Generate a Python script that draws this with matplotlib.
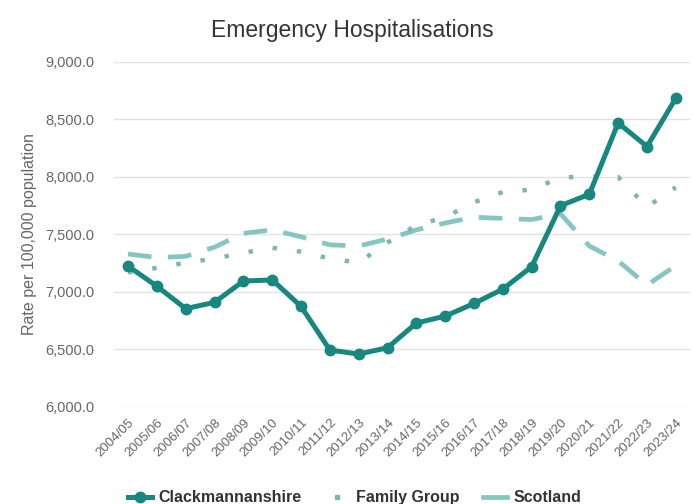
import numpy as np
import matplotlib.pyplot as plt
from matplotlib.ticker import FuncFormatter
from matplotlib.lines import Line2D

plt.rcParams['font.family'] = ['Liberation Sans', 'DejaVu Sans']

years = ["2004/05", "2005/06", "2006/07", "2007/08", "2008/09", "2009/10",
         "2010/11", "2011/12", "2012/13", "2013/14", "2014/15", "2015/16",
         "2016/17", "2017/18", "2018/19", "2019/20", "2020/21", "2021/22",
         "2022/23", "2023/24"]

clacks = [7225, 7050, 6855, 6910, 7095, 7105, 6875, 6495, 6460, 6515,
          6730, 6790, 6900, 7025, 7220, 7750, 7850, 8470, 8265, 8685]

family = [7170, 7210, 7255, 7290, 7340, 7385, 7350, 7290, 7255, 7430,
          7580, 7650, 7780, 7870, 7890, 7995, 8005, 8000, 7740, 7910]

scotland = [7330, 7300, 7310, 7390, 7510, 7540, 7480, 7410, 7400, 7460,
            7540, 7600, 7650, 7640, 7630, 7680, 7400, 7270, 7060, 7230]

c_clacks = "#17877f"
c_family = "#7fb5b2"
c_scot = "#85c6c2"
grey = "#666666"

fig = plt.figure(figsize=(6.93, 5.04), dpi=100)
ax = fig.add_axes([0.164, 0.1925, 0.832, 0.6845])

x = np.arange(len(years))
dotted = (0, (1, 4.5))
ax.plot(x, scotland, color=c_scot, lw=3.4, dashes=(5, 3.5), solid_capstyle='butt', zorder=2)
ax.plot(x, family, color=c_family, lw=3.2, linestyle=dotted, dash_capstyle='butt', zorder=2)
ax.plot(x, clacks, color=c_clacks, lw=3.6, marker='o', markersize=7.5, zorder=3)

ax.set_xlim(-0.5, len(years) - 0.5)
ax.set_ylim(6000, 9000)
ax.set_yticks(np.arange(6000, 9001, 500))
ax.yaxis.set_major_formatter(FuncFormatter(lambda v, _: '{:,.1f}'.format(v)))
ax.grid(axis='y', color='#e3e3e3', lw=1)
ax.set_axisbelow(True)
for s in ax.spines.values():
    s.set_visible(False)

ax.set_xticks(x)
ax.set_xticklabels(years, rotation=45, ha='right', rotation_mode='anchor')
ax.tick_params(axis='x', length=0, pad=7, labelsize=9.5, labelcolor=grey)
ax.tick_params(axis='y', length=0, pad=14, labelsize=10.5, labelcolor=grey)

ax.set_ylabel("Rate per 100,000 population", fontsize=11.5, color=grey, labelpad=6)
fig.text(0.508, 0.94, "Emergency Hospitalisations", ha='center', va='center',
         fontsize=16.5, color='#333333')

handles = [
    Line2D([], [], color=c_clacks, lw=3.6, marker='o', markersize=7.5),
    Line2D([], [], color=c_family, marker='s', markersize=3.5, linestyle='none'),
    Line2D([], [], color=c_scot, lw=3.4),
]
fig.legend(handles, ["Clackmannanshire", "Family Group", "Scotland"],
           loc='center', bbox_to_anchor=(0.512, 0.012), ncol=3, frameon=False,
           prop={'weight': 'bold', 'size': 11.5}, labelcolor='#333333',
           handlelength=1.5, columnspacing=1.5, handletextpad=0.4)

fig.savefig("out.png", dpi=100)
